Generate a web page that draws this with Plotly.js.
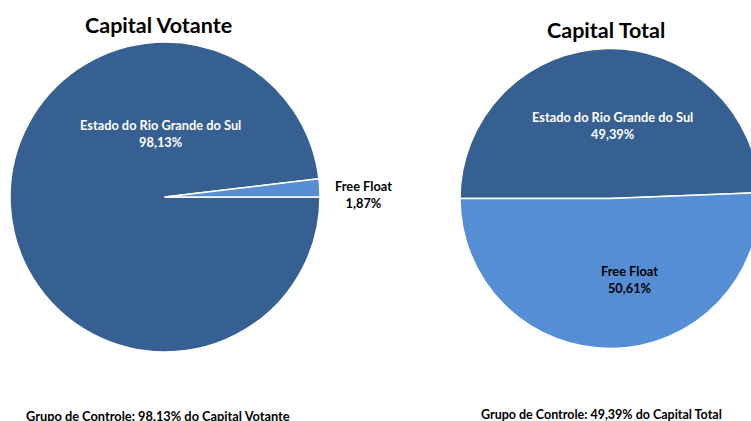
<!DOCTYPE html>
<html>
<head>
<meta charset="utf-8">
<script src="https://cdn.plot.ly/plotly-3.0.1.min.js"></script>
<style>
  html, body { margin: 0; padding: 0; overflow: hidden; background: #fff; }
  #chart { width: 770px; height: 421px; }
</style>
</head>
<body>
<div id="chart"></div>
<script>
const categories = ["Estado do Rio Grande do Sul", "Free Float"];
const votanteValues = [98.13, 1.87];
const totalValues = [49.39, 50.61];
const chartTitles = ["Capital Votante", "Capital Total"];

const W = 770, H = 421;
const FONT = "Lato, 'Open Sans', sans-serif";
const DARK = "#376092", LIGHT = "#558ED5";
const px = x => x / W;
const py = y => 1 - y / H;
const pct = v => v.toFixed(2).replace('.', ',') + '%';

const pieBase = {
  type: 'pie',
  labels: categories,
  sort: false,
  direction: 'clockwise',
  textinfo: 'none',
  hoverinfo: 'skip',
  showlegend: false,
  marker: { colors: [DARK, LIGHT], line: { color: '#ffffff', width: 1.5 } }
};

const traces = [
  Object.assign({}, pieBase, {
    values: votanteValues,
    rotation: 90,
    domain: { x: [px(10), px(320)], y: [py(352), py(42)] }
  }),
  Object.assign({}, pieBase, {
    values: totalValues,
    rotation: -90,
    domain: { x: [px(460), px(760)], y: [py(349), py(48)] }
  })
];

function ann(x, y, text, size, color) {
  return { xref: 'paper', yref: 'paper', x: px(x), y: py(y), xanchor: 'center', yanchor: 'middle',
           text: text, showarrow: false, font: { family: FONT, size: size, color: color, weight: 'bold' } };
}

const annotations = [
  ann(158.5, 25, '<b>' + chartTitles[0] + '</b>', 21.5, '#000'),
  ann(606, 30, '<b>' + chartTitles[1] + '</b>', 21.5, '#000'),
  ann(160, 133.5, '<b>' + categories[0] + '<br>' + pct(votanteValues[0]) + '</b>', 12.8, '#fff'),
  ann(363, 194, '<b>' + categories[1] + '<br>' + pct(votanteValues[1]) + '</b>', 12.8, '#000'),
  ann(612, 125.5, '<b>' + categories[0] + '<br>' + pct(totalValues[0]) + '</b>', 12.8, '#fff'),
  ann(629, 279, '<b>' + categories[1] + '<br>' + pct(totalValues[1]) + '</b>', 12.8, '#000'),
  ann(157.5, 416, '<b>Grupo de Controle: ' + votanteValues[0].toFixed(2) + '% do ' + chartTitles[0] + '</b>', 12.8, '#000'),
  ann(601, 414, '<b>Grupo de Controle: ' + pct(totalValues[0]) + ' do ' + chartTitles[1] + '</b>', 12.5, '#000')
];

const layout = {
  width: W, height: H,
  margin: { l: 0, r: 0, t: 0, b: 0 },
  paper_bgcolor: '#fff',
  plot_bgcolor: '#fff',
  annotations: annotations
};

Plotly.newPlot('chart', traces, layout, { staticPlot: true, displayModeBar: false });
</script>
</body>
</html>
